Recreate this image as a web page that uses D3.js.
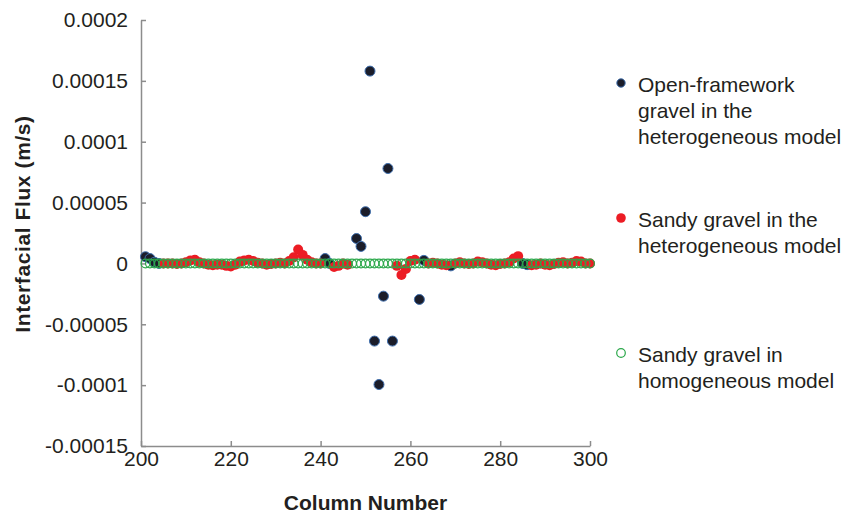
<!DOCTYPE html>
<html>
<head>
<meta charset="utf-8">
<script src="https://cdn.jsdelivr.net/npm/d3@7"></script>
<style>
  body { margin: 0; background: #fff; }
  svg { display: block; }
</style>
</head>
<body>
<svg width="849" height="514"></svg>
<script>
const WIDTH = 849;
const HEIGHT = 514;

// all columns (homogeneous model covers every one)
const columns = [
  201,202,203,204,205,206,207,208,209,210,211,212,213,214,215,216,217,218,219,220,
  221,222,223,224,225,226,227,228,229,230,231,232,233,234,235,236,237,238,239,240,
  241,242,243,244,245,246,247,248,249,250,251,252,253,254,255,256,257,258,259,260,
  261,262,263,264,265,266,267,268,269,270,271,272,273,274,275,276,277,278,279,280,
  281,282,283,284,285,286,287,288,289,290,291,292,293,294,295,296,297,298,299,300
];
const hmFlux = [
  0,0,0,0,0,0,0,0,0,0,0,0,0,0,0,0,0,0,0,0,
  0,0,0,0,0,0,0,0,0,0,0,0,0,0,0,0,0,0,0,0,
  0,0,0,0,0,0,0,0,0,0,0,0,0,0,0,0,0,0,0,0,
  0,0,0,0,0,0,0,0,0,0,0,0,0,0,0,0,0,0,0,0,
  0,0,0,0,0,0,0,0,0,0,0,0,0,0,0,0,0,0,0,0
];

// open-framework gravel, heterogeneous model
const ofCols = [201,202,203,204,241,242,248,249,250,251,252,253,254,255,256,262,263,269,285,286];
const ofFlux = [5.5e-6,4e-6,1e-6,0,4e-6,0,2.05e-5,1.4e-5,4.25e-5,1.58e-4,-6.38e-5,-9.95e-5,
                -2.69e-5,7.8e-5,-6.38e-5,-2.96e-5,2.5e-6,-2e-6,0,-1e-6];

// sandy gravel, heterogeneous model
const sgCols = [
  205,206,207,208,209,210,211,212,213,214,215,216,217,218,219,220,221,222,223,224,
  225,226,227,228,229,230,231,232,233,234,235,236,237,238,239,240,243,244,245,246,
  257,258,259,260,261,264,265,266,267,268,270,271,272,273,274,275,276,277,278,279,
  280,281,282,283,284,287,288,289,290,291,292,293,294,295,296,297,298,299,300
];
const sgFlux = [
  0,0,0,-0.5e-6,0,1e-6,2.5e-6,3e-6,1e-6,0,-1e-6,-1.5e-6,-1e-6,-1e-6,-2e-6,-2.5e-6,-1e-6,1.5e-6,2.5e-6,3e-6,
  2e-6,0.5e-6,0,-1e-6,-0.5e-6,0,0.5e-6,0,2e-6,5e-6,1.15e-5,7e-6,3e-6,1e-6,0,0,-3e-6,-2e-6,0,-1e-6,
  -2e-6,-9.5e-6,-4.5e-6,2e-6,3e-6,0,0.5e-6,0,-1e-6,-1.5e-6,0,1e-6,0,-0.5e-6,0,1.5e-6,1e-6,0,-1e-6,-1.5e-6,
  -0.5e-6,0,1e-6,4e-6,6e-6,-1.5e-6,-1e-6,0,-1e-6,-1.5e-6,-0.5e-6,0.5e-6,1e-6,0,0.5e-6,2e-6,1.5e-6,0,0
];

const yTicks = [-0.00015, -0.0001, -0.00005, 0, 0.00005, 0.0001, 0.00015, 0.0002];
const yTickLabels = ["-0.00015", "-0.0001", "-0.00005", "0", "0.00005", "0.0001", "0.00015", "0.0002"];
const xTicks = [200, 220, 240, 260, 280, 300];

const legendLabels = [
  ["Open-framework", "gravel in the", "heterogeneous model"],
  ["Sandy gravel in the", "heterogeneous model"],
  ["Sandy gravel in", "homogeneous model"]
];

const FONT = "'Liberation Sans', Arial, Helvetica, sans-serif";
const AXIS_GREY = "#8c8c8c";
const TEXT = "#231f20";

var svg = d3.select("svg")
    .attr("viewBox", `0 0 ${WIDTH} ${HEIGHT}`);

var x = d3.scaleLinear().domain([200, 300]).range([141, 590]);
var y = d3.scaleLinear().domain([-0.00015, 0.0002]).range([446, 20]);

// axes, ticks pointing inward
var yAxis = svg.append("g")
    .attr("transform", `translate(${x(200)},0)`)
    .call(d3.axisLeft(y)
        .tickValues(yTicks)
        .tickFormat((d, i) => yTickLabels[i])
        .tickSize(-5)
        .tickSizeOuter(0)
        .tickPadding(13));

var xAxis = svg.append("g")
    .attr("transform", `translate(0,${y(-0.00015)})`)
    .call(d3.axisBottom(x)
        .tickValues(xTicks)
        .tickSize(-5)
        .tickSizeOuter(0)
        .tickPadding(5));

[xAxis, yAxis].forEach(a => {
    a.selectAll("path, line").attr("stroke", AXIS_GREY).attr("stroke-width", 1.5);
    a.selectAll("text")
        .style("font-family", FONT)
        .style("font-size", "21px")
        .attr("fill", TEXT);
});

svg.append("text")
    .attr("x", (x(200) + x(300)) / 2)
    .attr("y", 510)
    .attr("text-anchor", "middle")
    .style("font-family", FONT)
    .style("font-size", "21px")
    .style("font-weight", "bold")
    .attr("fill", TEXT)
    .text("Column Number");

svg.append("text")
    .attr("transform", "translate(30,224) rotate(-90)")
    .attr("text-anchor", "middle")
    .style("font-family", FONT)
    .style("font-size", "21px")
    .style("font-weight", "bold")
    .style("letter-spacing", "0.6px")
    .attr("fill", TEXT)
    .text("Interfacial Flux (m/s)");

// markers
function darkDot(sel, r) {
    sel.attr("r", r).attr("fill", "#1b1d2a").attr("stroke", "#3f6fae").attr("stroke-width", 1);
}
function redDot(sel, r) {
    sel.attr("r", r).attr("fill", "#ec1c24").attr("stroke", "none");
}
function greenRing(sel, r) {
    sel.attr("r", r).attr("fill", "none").attr("stroke", "#2ba84a").attr("stroke-width", 1.2);
}

svg.append("g").selectAll("circle")
    .data(ofCols.map((c, i) => [c, ofFlux[i]]))
    .join("circle")
    .attr("cx", d => x(d[0]))
    .attr("cy", d => y(d[1]))
    .call(darkDot, 5);

svg.append("g").selectAll("circle")
    .data(sgCols.map((c, i) => [c, sgFlux[i]]))
    .join("circle")
    .attr("cx", d => x(d[0]))
    .attr("cy", d => y(d[1]))
    .call(redDot, 5);

svg.append("g").selectAll("circle")
    .data(columns.map((c, i) => [c, hmFlux[i]]))
    .join("circle")
    .attr("cx", d => x(d[0]))
    .attr("cy", d => y(d[1]))
    .call(greenRing, 4.4);

// legend
const LEG_X = 621;
const LEG_Y = [83, 218, 353];
const LINE_H = 26;
const markers = [darkDot, redDot, greenRing];
const markerR = [4.2, 4.8, 4.3];

legendLabels.forEach((lines, i) => {
    let g = svg.append("g");
    g.append("circle")
        .attr("cx", LEG_X)
        .attr("cy", LEG_Y[i])
        .call(markers[i], markerR[i]);
    g.append("text")
        .attr("y", LEG_Y[i] + 9)
        .style("font-family", FONT)
        .style("font-size", "21px")
        .attr("fill", TEXT)
        .selectAll("tspan")
        .data(lines)
        .join("tspan")
        .attr("x", 638)
        .attr("dy", (d, j) => j === 0 ? 0 : LINE_H)
        .text(d => d);
});
</script>
</body>
</html>
